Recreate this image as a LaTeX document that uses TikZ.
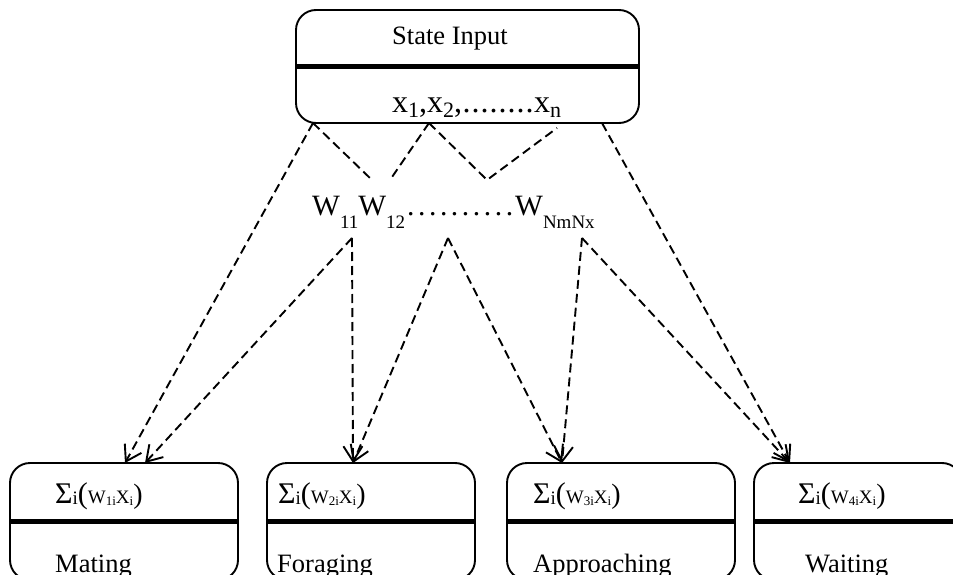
\documentclass[tikz,border=0pt]{standalone}
\usepackage{fontspec}
\setmainfont{Liberation Serif}
\usepackage{tikz}
\usetikzlibrary{arrows.meta}
\tikzstyle{statebox} = [draw=black, line width=1.9pt, rounded corners=20pt, inner sep=0pt]
\tikzstyle{txt} = [anchor=base west, inner sep=0pt, font=\fontsize{26.5}{30}\selectfont]
\tikzstyle{dashline} = [line width=1.9pt, dash pattern=on 9pt off 5pt]
\tikzstyle{dasharrow} = [dashline, -{Straight Barb[length=15pt,width=19pt]}]
\tikzstyle{divider} = [line width=4.5pt]

% lowered subscripts as in the original drawing
\newcommand{\xsub}[1]{\raisebox{-5pt}{\fontsize{22}{24}\selectfont #1}}
\newcommand{\wsub}[1]{\raisebox{-13pt}{\fontsize{19}{22}\selectfont #1}}
\newcommand{\tinysub}[1]{\raisebox{-2pt}{\fontsize{13}{15}\selectfont #1}}
\newcommand{\wsum}[1]{{\fontsize{30}{34}\selectfont Σ\raisebox{-1pt}{\fontsize{19}{22}\selectfont i}(}{\fontsize{19}{22}\selectfont W\tinysub{#1i}X\tinysub{i}}{\fontsize{28}{32}\selectfont )}}
\newcommand{\dotrow}[2]{\hbox to #1{\xleaders\hbox to #2{\hss.\hss}\hfill}}

\begin{document}
\begin{tikzpicture}[x=1pt,y=-1pt]
    \clip (0,0) rectangle (953,575);

    % input box
    \node[statebox, minimum width=343pt, minimum height=113pt] (input) at (467.5,66.5) {};
    \draw[divider] (input.west) -- (input.east);
    \node[txt] (title) at (392,45) {State Input};
    \node[txt, font=\fontsize{32}{36}\selectfont] (xvec) at (392,113) {x\xsub{1},x\xsub{2},\dotrow{72pt}{9pt}x\xsub{n}};

    % weights
    \node[txt, font=\fontsize{29.5}{34}\selectfont] (wrow) at (312,215) {W\wsub{11}W\wsub{12}\dotrow{110pt}{10.7pt}W\wsub{NmNx}};

    % behaviour boxes
    \node[statebox, minimum width=228pt, minimum height=117pt] (mating) at (124,521.5) {};
    \node[statebox, minimum width=208pt, minimum height=117pt] (foraging) at (371,521.5) {};
    \node[statebox, minimum width=228pt, minimum height=117pt] (approaching) at (621,521.5) {};
    \node[statebox, minimum width=208pt, minimum height=117pt] (waiting) at (858,521.5) {};
    \draw[divider] (mating.west) -- (mating.east);
    \draw[divider] (foraging.west) -- (foraging.east);
    \draw[divider] (approaching.west) -- (approaching.east);
    \draw[divider] (waiting.west) -- (waiting.east);

    \node[txt] (summat) at (55,503) {\wsum{1}};
    \node[txt] (sumfor) at (278,503) {\wsum{2}};
    \node[txt] (sumapp) at (533,503) {\wsum{3}};
    \node[txt] (sumwai) at (798,503) {\wsum{4}};
    \node[txt] (lblmat) at (55,572) {Mating};
    \node[txt] (lblfor) at (277,572) {Foraging};
    \node[txt] (lblapp) at (533,572) {Approaching};
    \node[txt] (lblwai) at (805,572) {Waiting};

    % connector points
    \coordinate (x1) at (313,123);
    \coordinate (x2) at (429,123);
    \coordinate (xn) at (557,128);
    \coordinate (xr) at (602,123);
    \coordinate (k1) at (372,180);
    \coordinate (k2) at (390,180);
    \coordinate (k3) at (487,180);
    \coordinate (w11) at (352,238);
    \coordinate (wdots) at (448,238);
    \coordinate (wnm) at (582,238);
    \coordinate (mat1) at (125,463);
    \coordinate (mat2) at (145,463);
    \coordinate (forg) at (353,463);
    \coordinate (appr) at (562,463);
    \coordinate (wait) at (790,463);

    % inputs to weights
    \draw[dashline] (x1) -- (k1);
    \draw[dashline] (x2) -- (k2);
    \draw[dashline] (x2) -- (k3) -- (xn);

    % weights to behaviours
    \draw[dasharrow] (x1) -- (mat1);
    \draw[dasharrow] (w11) -- (mat2);
    \draw[dasharrow] (w11) -- (forg);
    \draw[dasharrow] (wdots) -- (forg);
    \draw[dasharrow] (wdots) -- (appr);
    \draw[dasharrow] (wnm) -- (appr);
    \draw[dasharrow] (wnm) -- (wait);
    \draw[dasharrow] (xr) -- (wait);
\end{tikzpicture}
\end{document}
